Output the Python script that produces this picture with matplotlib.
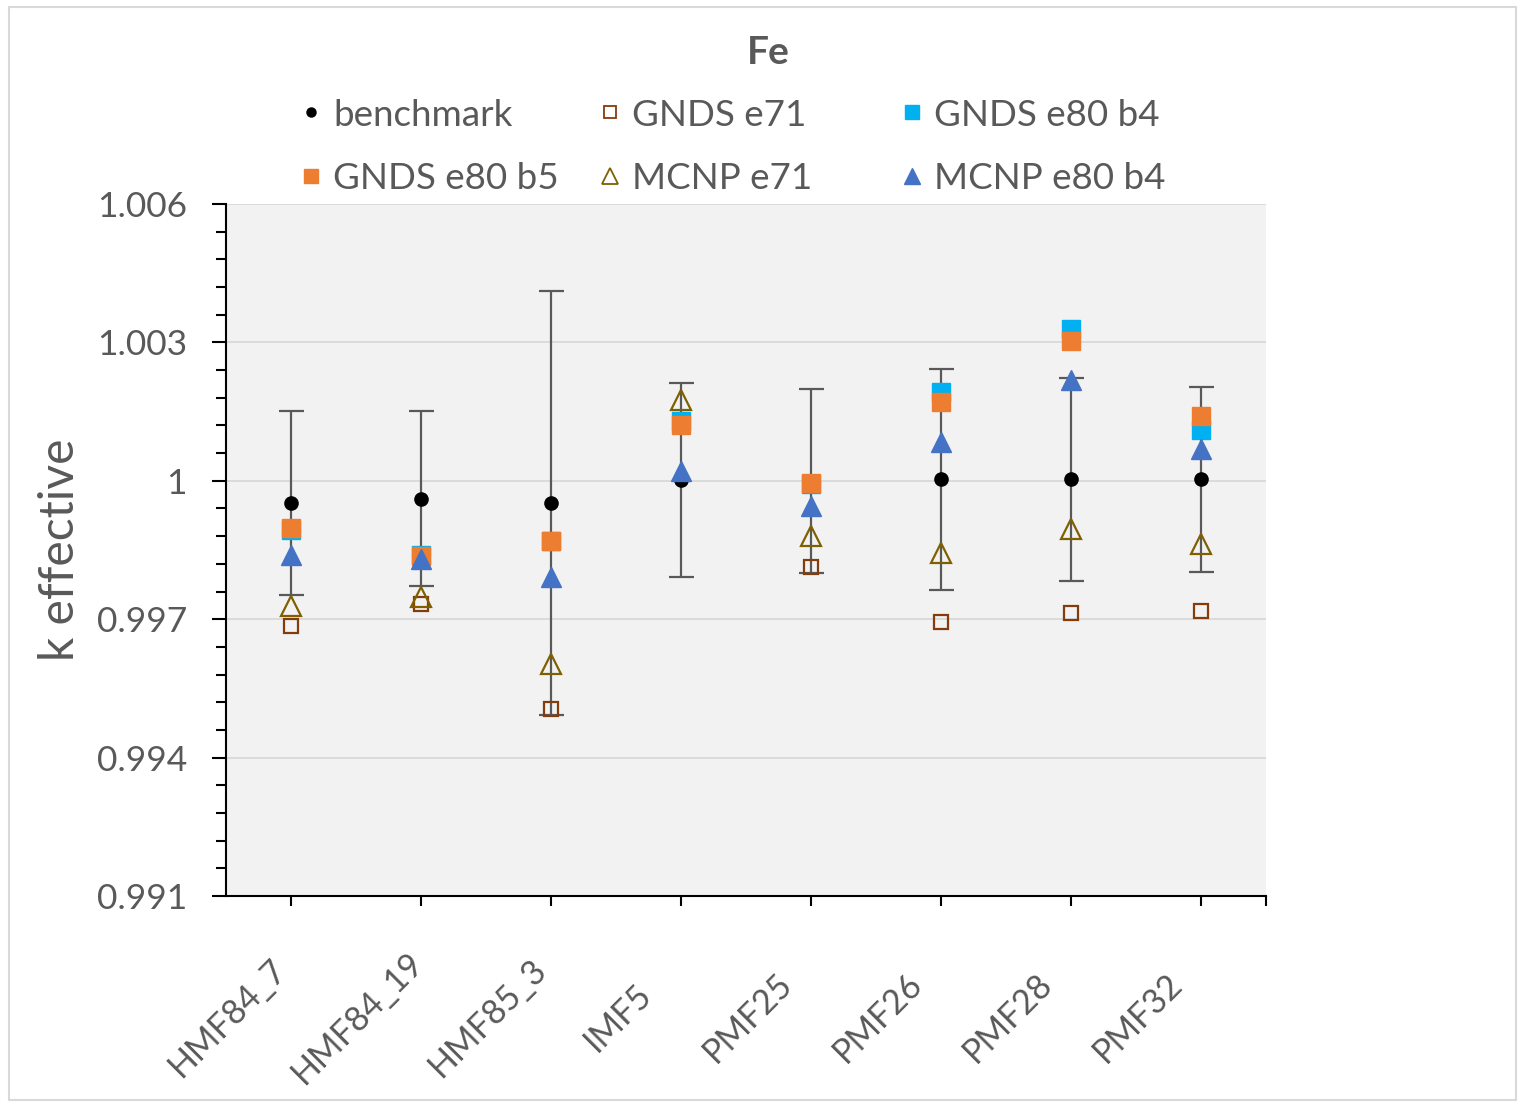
import numpy as np
import matplotlib
matplotlib.use("Agg")
import matplotlib.pyplot as plt
from matplotlib.ticker import FixedLocator, FuncFormatter
from matplotlib.lines import Line2D
from matplotlib.patches import Rectangle
from matplotlib.transforms import ScaledTranslation, blended_transform_factory

plt.rcParams['font.family'] = ['Lato', 'DejaVu Sans']

categories = ["HMF84_7", "HMF84_19", "HMF85_3", "IMF5", "PMF25", "PMF26", "PMF28", "PMF32"]
benchmark = [0.99952, 0.99961, 0.99952, 1.00002, 1.00000, 1.00003, 1.00003, 1.00003]
benchmark_err = [0.0020, 0.0019, 0.0046, 0.0021, 0.0020, 0.0024, 0.0022, 0.0020]
gnds_e71 = [0.99685, 0.99733, 0.99505, 1.00121, 0.99813, 0.99694, 0.99714, 0.99718]
gnds_e80_b4 = [0.99894, 0.99839, 0.99870, 1.00129, 0.99993, 1.00193, 1.00328, 1.00111]
gnds_e80_b5 = [0.99898, 0.99838, 0.99870, 1.00121, 0.99996, 1.00170, 1.00304, 1.00141]
mcnp_e71 = [0.99728, 0.99748, 0.99603, 1.00176, 0.99881, 0.99843, 0.99896, 0.99863]
mcnp_e80_b4 = [0.99839, 0.99831, 0.99792, 1.00022, 0.99946, 1.00085, 1.00219, 1.00070]

series_labels = ["benchmark", "GNDS e71", "GNDS e80 b4", "GNDS e80 b5", "MCNP e71", "MCNP e80 b4"]
title = "Fe"
ylabel = "k effective"
y_min, y_max = 0.991, 1.006
n_major, n_minor_per = 5, 5

TXT = "#595959"
W, H = 1519, 1102
fig = plt.figure(figsize=(W / 100, H / 100), dpi=100)
fig.patch.set_facecolor("white")
fig.add_artist(Rectangle((9 / W, 2 / H), 1507 / W, 1093 / H, transform=fig.transFigure,
                         fill=False, edgecolor="#D9D9D9", linewidth=1.5))

ax = fig.add_axes([226 / W, 1 - 896 / H, (1266 - 226) / W, (896 - 204) / H])
ax.set_facecolor("#F2F2F2")
x = np.arange(len(categories))

styles = [
    dict(marker='o', color='black', markersize=9.5),
    dict(marker='s', markerfacecolor='none', markeredgecolor='#843C0C', markeredgewidth=1.6, markersize=10),
    dict(marker='s', color='#00B0F0', markersize=12.5),
    dict(marker='s', color='#ED7D31', markersize=12.5),
    dict(marker='^', markerfacecolor='none', markeredgecolor='#7F6000', markeredgewidth=1.6, markersize=14),
    dict(marker='^', color='#4472C4', markersize=14.5),
]

ax.errorbar(x, benchmark, yerr=benchmark_err, fmt='o', color='black', markersize=9.5,
            ecolor='#595959', elinewidth=1.6, capsize=9, capthick=1.6, zorder=3)
for k, ys in enumerate([gnds_e71, gnds_e80_b4, gnds_e80_b5, mcnp_e71, mcnp_e80_b4], start=1):
    ax.plot(x, ys, ls='none', zorder=3 + k, **styles[k])

ax.set_xlim(-0.5, len(categories) - 0.5)
ax.set_ylim(y_min, y_max)
major = np.linspace(y_min, y_max, n_major + 1)
minor = np.linspace(y_min, y_max, n_major * n_minor_per + 1)
ax.yaxis.set_major_locator(FixedLocator(major))
ax.yaxis.set_minor_locator(FixedLocator(minor))
ax.yaxis.set_major_formatter(FuncFormatter(lambda v, p: format(round(v, 3), 'g')))
ax.set_xticks(x)
ax.set_xticks([len(categories) - 0.5], minor=True)
ax.set_xticklabels([])

# rotated category labels, centred below-left of each tick (Excel style)
trans = blended_transform_factory(ax.transData, ax.transAxes) + \
    ScaledTranslation(-0.63, -1.22, fig.dpi_scale_trans)
for xi, name in zip(x, categories):
    ax.text(xi, 0, name, transform=trans, rotation=45, ha='center', va='center',
            fontsize=24.5, color=TXT, clip_on=False)

ax.grid(axis='y', which='major', color='#D9D9D9', linewidth=1.3, zorder=0)
ax.set_axisbelow(True)
for s in ['top', 'right']:
    ax.spines[s].set_visible(False)
for s in ['left', 'bottom']:
    ax.spines[s].set_color('black')
    ax.spines[s].set_linewidth(1.5)

ax.tick_params(axis='y', which='major', length=10, width=1.5, color='black',
               labelsize=25.5, labelcolor=TXT, pad=18)
ax.tick_params(axis='y', which='minor', length=7.5, width=1.5, color='black')
ax.tick_params(axis='x', which='both', length=7, width=1.5, color='black')

ax.set_ylabel(ylabel, fontsize=34.5, color=TXT, labelpad=11)
fig.text(768 / W, 1 - 52 / H, title, fontsize=28, fontweight='bold', color=TXT,
         ha='center', va='center')

# legend laid out as in the reference: 3 columns x 2 rows, row-wise order
col_marker_x = [311, 610, 912]
row_y = [112, 176]
legend_styles = [
    dict(marker='o', color='black', markersize=6.5),
    dict(marker='s', markerfacecolor='none', markeredgecolor='#843C0C', markeredgewidth=1.3, markersize=8),
    dict(marker='s', color='#00B0F0', markersize=10),
    dict(marker='s', color='#ED7D31', markersize=10),
    dict(marker='^', markerfacecolor='none', markeredgecolor='#7F6000', markeredgewidth=1.3, markersize=11),
    dict(marker='^', color='#4472C4', markersize=12),
]
for i, lab in enumerate(series_labels):
    r, c = divmod(i, 3)
    mx, my = col_marker_x[c] / W, 1 - row_y[r] / H
    fig.add_artist(Line2D([mx], [my], transform=fig.transFigure, ls='none', **legend_styles[i]))
    fig.text(mx + 22 / W, my, lab, fontsize=26.5, color=TXT, ha='left', va='center_baseline')

fig.savefig("out.png", dpi=100, facecolor="white")
